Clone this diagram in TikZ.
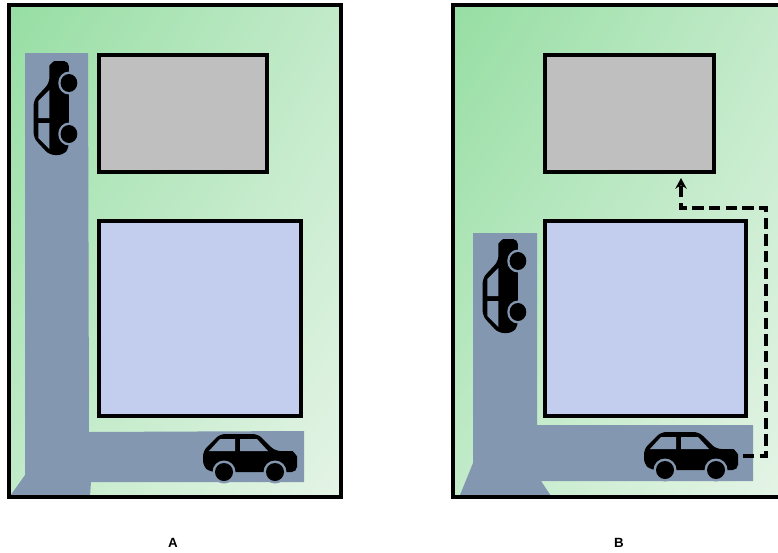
\documentclass[tikz,border=0pt]{standalone}
\usepackage{fontspec}
\setmainfont{Liberation Sans}
\usepackage{xcolor}
\usetikzlibrary{arrows.meta,shadings}
\definecolor{roadblue}{HTML}{8497B0}
\definecolor{bldgray}{HTML}{BFBFBF}
\definecolor{bldblue}{HTML}{C3CDEE}
\definecolor{lawnul}{RGB}{150,222,163}
\definecolor{lawnur}{RGB}{194,234,201}
\definecolor{lawnll}{RGB}{194,235,201}
\definecolor{lawnlr}{RGB}{228,244,230}
\tikzset{
  lawn/.style={upper left=lawnul, upper right=lawnur, lower left=lawnll, lower right=lawnlr},
  lot/.style={line width=3pt, draw=black},
  bld/.style={line width=2.6pt, draw=black},
  road/.style={fill=roadblue, draw=none},
  lbl/.style={font=\bfseries, inner sep=0pt},
  route/.style={line width=2.5pt, dash pattern=on 8.5pt off 4pt, -{Stealth[length=8pt,width=8.5pt]}},
  car/.pic={
    \fill[black, rounded corners=4pt] (-47,-6) -- (-30,-23) -- (8,-23) -- (25,-6) -- (37,-6)
      .. controls (43,-6) and (47,-1) .. (47,5) -- (47,15) -- (-40,15) -- (-47,9) -- cycle;
    \fill[roadblue] (-41,-6) -- (-30,-18) -- (-15,-18) -- (-15,-6) -- cycle;
    \fill[roadblue] (-10,-18) -- (7,-18) -- (18,-6) -- (-10,-6) -- cycle;
    \foreach \x in {-26,25} {
      \fill[roadblue] (\x,15) circle (11.5);
      \fill[black] (\x,15) circle (9);
    }
  }
}
\begin{document}
\begin{tikzpicture}[x=0.75pt, y=-0.75pt]
  \useasboundingbox (0,0) rectangle (778,553);
  % lot A
  \shade[lawn] (9,5) rectangle (341,497);
  \fill[road] (25,53) -- (88,53) -- (89,432) -- (304,431) -- (304,482) -- (91,482) -- (90,496) -- (10,496) -- (25,475) -- cycle;
  \draw[bld, fill=bldgray] (99,55) rectangle (267,172);
  \draw[bld, fill=bldblue] (99,221) rectangle (301,416);
  \draw[lot] (9,5) rectangle (341,497);
  \pic[rotate=90, yscale=.93] at (55,108) {car};
  \pic at (250,457) {car};
  \node[lbl] (labela) at (173,543) {A};
  % lot B
  \shade[lawn] (453,5) rectangle (778,497);
  \fill[road] (473,233) -- (537,233) -- (537,425) -- (753,425) -- (753,481) -- (541,481) -- (551,496) -- (460,495) -- (473,463) -- cycle;
  \draw[bld, fill=bldgray] (545,55) rectangle (714,172);
  \draw[bld, fill=bldblue] (545,221) rectangle (746,416);
  \draw[lot] (778,5) -- (453,5) -- (453,497) -- (778,497);
  \pic[rotate=90, yscale=.93] at (504,286) {car};
  \pic at (691,455) {car};
  \coordinate (carout) at (743,456);
  \coordinate (bldin) at (681,178);
  \draw[route] (carout) -- (766,456) -- (766,208) -- (681,208) -- (bldin);
  \node[lbl] (labelb) at (619,543) {B};
\end{tikzpicture}
\end{document}
